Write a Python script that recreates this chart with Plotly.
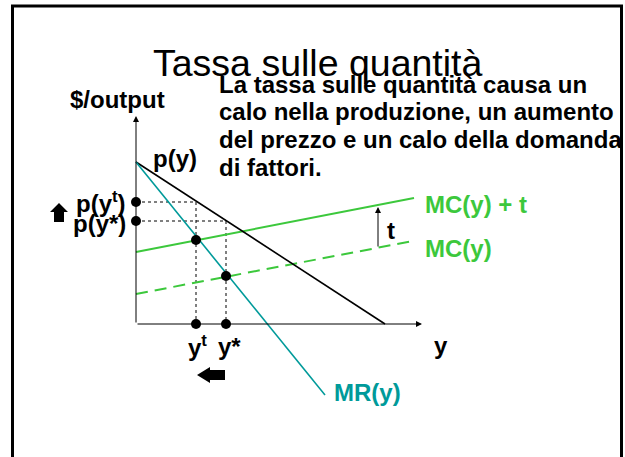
import plotly.graph_objects as go

# ---------------- data (economic units, origin = corner of the axes) ----------------
demand_q = [0, 24.9]
demand_p = [16.2, 0]
mr_q = [0, 18.9]
mr_p = [16.2, -7.1]
mct_q = [0, 27.8]          # MC(y) + t
mct_p = [7.2, 12.6]
mc_q = [0, 27.7]           # MC(y)
mc_p = [3.0, 8.3]
eq_q = [6.0, 9.0]          # y^t, y*
eq_price = [12.2, 10.3]    # p(y^t), p(y*)
eq_cost = [8.4, 4.8]       # MR = MC + t, MR = MC
axis_x_max = 28.6
axis_y_max = 20.8
tax_arrow_q = 24.2
tax_arrow_p = [7.6, 11.7]

# ---------------- layout mapping ----------------
W, H = 625, 457
OX, OY, S = 136, 324, 10.0


def X(px):
    return (px - OX) / S


def Y(py):
    return (OY - py) / S


BLACK = "#000000"
GREEN = "#3cc83c"
TEAL = "#009a9a"
FONT = "Arial, 'Liberation Sans', sans-serif"

fig = go.Figure()

# dashed guides
gx, gy = [], []
for q, p in zip(eq_q, eq_price):
    gx += [0, q, q, None]
    gy += [p, p, 0, None]
fig.add_trace(go.Scatter(x=gx, y=gy, mode="lines",
                         line=dict(color=BLACK, width=1, dash="3px,3px"),
                         hoverinfo="skip"))

fig.add_trace(go.Scatter(x=mc_q, y=mc_p, mode="lines",
                         line=dict(color=GREEN, width=2, dash="12px,7px"), hoverinfo="skip"))
fig.add_trace(go.Scatter(x=mct_q, y=mct_p, mode="lines",
                         line=dict(color=GREEN, width=2), hoverinfo="skip"))
fig.add_trace(go.Scatter(x=demand_q, y=demand_p, mode="lines",
                         line=dict(color=BLACK, width=1.6), hoverinfo="skip"))
fig.add_trace(go.Scatter(x=mr_q, y=mr_p, mode="lines",
                         line=dict(color=TEAL, width=1.6), hoverinfo="skip"))

# dots
dx = [0] * len(eq_price) + eq_q + eq_q
dy = eq_price + [0] * len(eq_q) + eq_cost
fig.add_trace(go.Scatter(x=dx, y=dy, mode="markers",
                         marker=dict(color=BLACK, size=10), hoverinfo="skip"))

ann = []


def arrow(x, y, ax, ay, width=1, size=1.2):
    ann.append(dict(x=x, y=y, ax=ax, ay=ay, xref="x", yref="y", axref="x", ayref="y",
                    text="", showarrow=True, arrowhead=2, arrowsize=size,
                    arrowwidth=width, arrowcolor=BLACK, standoff=0, startstandoff=0))


# axes with arrowheads
arrow(axis_x_max, 0, 0, 0)
arrow(0, axis_y_max, 0, 0)
# tax arrow
arrow(tax_arrow_q, tax_arrow_p[1], tax_arrow_q, tax_arrow_p[0])


def label(text, px, py, size=24, color=BLACK, xanchor="center", bold=True):
    ann.append(dict(x=X(px), y=Y(py), xref="x", yref="y", text=text, showarrow=False,
                    xanchor=xanchor, yanchor="middle",
                    font=dict(family=FONT, size=size, color=color,
                              weight="bold" if bold else "normal")))


label("Tassa sulle quantità", 151, 63, size=37.5, xanchor="left", bold=False)
body = ["La tassa sulle quantità causa un",
        "calo nella produzione, un aumento",
        "del prezzo e un calo della domanda",
        "di fattori."]
for i, line in enumerate(body):
    label(line, 217, 84 + i * 27.7, xanchor="left")

label("$/output", 117.5, 99)
label("p(y)", 175, 158)
label("p(y<sup>t</sup>)", 128, 202, xanchor="right")
label("p(y*)", 128, 223, xanchor="right")
label("y<sup>t</sup>", 197, 346)
label("y*", 229, 346)
label("y", 441, 345)
label("MR(y)", 367, 392, color=TEAL)
label("MC(y) + t", 423, 204, color=GREEN, xanchor="left")
label("MC(y)", 423, 248, color=GREEN, xanchor="left")
label("t", 391, 230)

fig.update_layout(annotations=ann)


# block arrows (decorations)
def block_arrow(cx, cy, length, thick, head_len, head_w, direction):
    pts = [(-length / 2, -thick / 2), (length / 2 - head_len, -thick / 2),
           (length / 2 - head_len, -head_w / 2), (length / 2, 0),
           (length / 2 - head_len, head_w / 2), (length / 2 - head_len, thick / 2),
           (-length / 2, thick / 2)]
    out = []
    for u, v in pts:
        if direction == "up":
            px, py = cx + v, cy - u
        else:  # left
            px, py = cx - u, cy + v
        out.append((X(px), Y(py)))
    return "M" + "L".join(f"{a:.3f},{b:.3f}" for a, b in out) + "Z"


shapes = [
    dict(type="path", xref="x", yref="y", path=block_arrow(59, 212.5, 19, 10, 9, 18, "up"),
         fillcolor=BLACK, line=dict(width=0)),
    dict(type="path", xref="x", yref="y", path=block_arrow(211, 375, 28, 10, 13, 16, "left"),
         fillcolor=BLACK, line=dict(width=0)),
    dict(type="rect", xref="paper", yref="paper", x0=12.5 / W, x1=621.5 / W,
         y0=-0.1, y1=1 - 6 / H, line=dict(color=BLACK, width=3)),
]
fig.update_layout(shapes=shapes)

fig.update_layout(
    width=W, height=H, margin=dict(l=0, r=0, t=0, b=0),
    paper_bgcolor="white", plot_bgcolor="white", showlegend=False,
    xaxis=dict(range=[X(0), X(W)], visible=False, fixedrange=True),
    yaxis=dict(range=[Y(H), Y(0)], visible=False, fixedrange=True),
)

fig.write_html("out.html", config={"displayModeBar": False},
               post_script="document.body.style.margin='0';document.body.style.overflow='hidden';")
